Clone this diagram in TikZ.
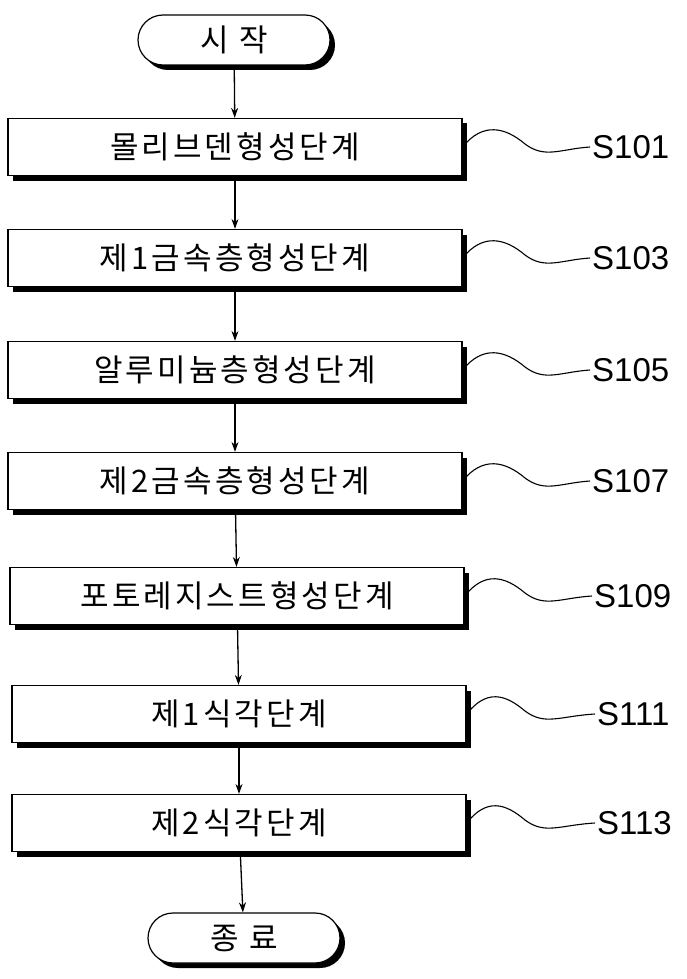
\documentclass[tikz,border=0pt]{standalone}
\usepackage{fontspec}
\setmainfont{Noto Sans CJK KR}[LetterSpace=10]
\newfontfamily\lat{Liberation Sans}
\usetikzlibrary{shadows,arrows.meta}
\begin{document}
\begin{tikzpicture}[x=1pt,y=-1pt,
 box/.style={draw=black,line width=1.2pt,fill=white,minimum width=454pt,minimum height=57pt,inner sep=0pt,font=\fontsize{31}{34}\selectfont,
   drop shadow={shadow xshift=5pt,shadow yshift=-5pt,fill=black,opacity=1}},
 term/.style={box,rounded corners=25pt,minimum width=192pt,minimum height=50pt},
 arr/.style={-{Stealth[length=10pt,width=7pt]},line width=1.3pt},
 lab/.style={font=\lat\fontsize{33}{35}\selectfont,anchor=west,inner sep=2pt},
 wave/.style={line width=1.1pt}]
\useasboundingbox (0,0) rectangle (686,979);
\node[term] (st) at (234,40) {시 작};
\node[box] (b1) at (235,147) {몰리브덴형성단계};
\node[box] (b2) at (235,258) {제1금속층형성단계};
\node[box] (b3) at (235,370) {알루미늄층형성단계};
\node[box] (b4) at (235,481) {제2금속층형성단계};
\node[box] (b5) at (237,596) {포토레지스트형성단계};
\node[box] (b6) at (239,714) {제1식각단계};
\node[box] (b7) at (239,823) {제2식각단계};
\node[term] (en) at (244,938) {종 료};
\draw[arr] (st) -- (b1);
\draw[arr] (b1) -- (b2);
\draw[arr] (b2) -- (b3);
\draw[arr] (b3) -- (b4);
\draw[arr] (b4) -- (b5);
\draw[arr] (b5) -- (b6);
\draw[arr] (b6) -- (b7);
\draw[arr] (b7) -- (en);
\foreach \b/\y/\t/\lx in {b1/147/S101/590,b2/258/S103/590,b3/370/S105/590,b4/481/S107/590,b5/596/S109/592,b6/714/S111/595,b7/823/S113/595}{
  \node[lab] (l\b) at (\lx,\y) {\t};
  \draw[wave] (\b.east) .. controls +(20,-25) and (505,\y-20) .. (525,\y-3)
     .. controls (545,\y+12) and (560,\y+2) .. (l\b.west);
}
\end{tikzpicture}
\end{document}
